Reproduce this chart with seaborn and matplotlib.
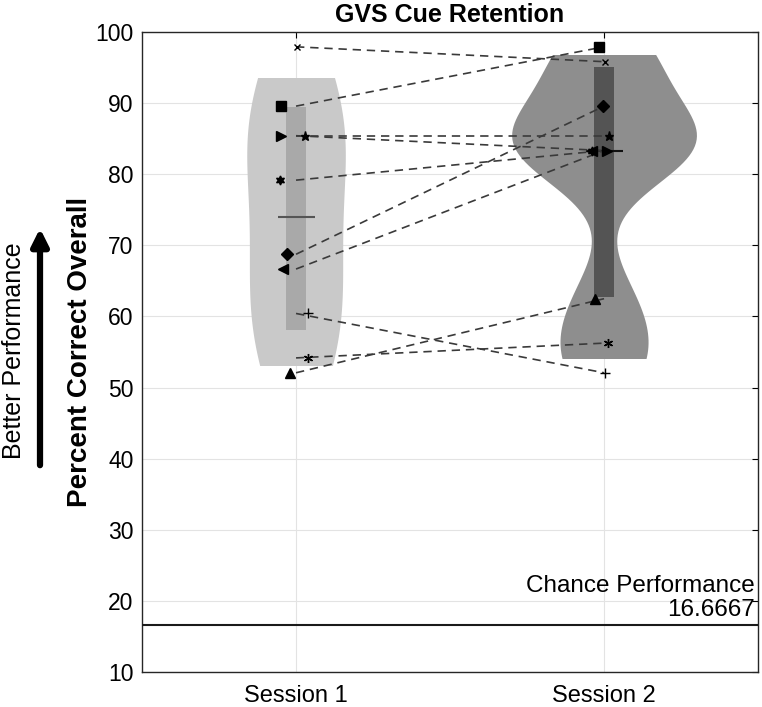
import numpy as np
import pandas as pd
import seaborn as sns
import matplotlib.pyplot as plt
from matplotlib.patches import Rectangle

# Percent correct per subject (10 subjects)
sessions = ['Session 1', 'Session 2']
session1 = [97.92, 89.58, 85.42, 85.42, 79.17, 68.75, 66.67, 60.42, 54.17, 52.08]
session2 = [95.83, 97.92, 83.33, 85.42, 83.33, 89.58, 83.33, 52.08, 56.25, 62.50]
# MATLAB-style marker per subject
subj_markers = ['x', 's', '>', '*', (6, 1, 0), 'D', '<', '+', (6, 2, 0), '^']

# shaded range of each violin and of its dark bar, as drawn
violin_lo = [53.2, 54.2]
violin_hi = [93.5, 96.8]
bar_lo = [58.1, 62.7]
bar_hi = [89.5, 95.1]
chance = 100 / 6

# small horizontal offsets so markers don't sit on top of each other
jit1 = [0.003, -0.048, -0.048, 0.029, -0.052, -0.029, -0.042, 0.039, 0.039, -0.019]
jit2 = [0.003, -0.016, 0.010, 0.016, -0.039, -0.003, -0.039, 0.003, 0.013, -0.029]

df = pd.DataFrame({
    'session': ['Session 1'] * len(session1) + ['Session 2'] * len(session2),
    'score': session1 + session2,
})

sns.set_style('white')
plt.rcParams['font.family'] = ['Liberation Sans', 'DejaVu Sans']
plt.rcParams['text.color'] = 'black'
plt.rcParams['axes.labelcolor'] = 'black'
plt.rcParams['xtick.color'] = 'black'
plt.rcParams['ytick.color'] = 'black'

fig = plt.figure(figsize=(7.62, 7.07), dpi=100)
ax = fig.add_axes([0.1864, 0.0495, 0.8084, 0.9052])

violin_colors = ['#c9c9c9', '#8e8e8e']
bar_colors = ['#a9a9a9', '#545454']
median_colors = ['#555555', '#111111']
widths = [0.32, 0.60]
bws = [1.0, 0.55]

for i, s in enumerate(sessions):
    n_before = len(ax.collections)
    sns.violinplot(data=df[df['session'] == s], x='session', y='score', order=sessions,
                   color=violin_colors[i], saturation=1, width=widths[i], bw_adjust=bws[i],
                   cut=0, inner=None, linewidth=0, density_norm='width', ax=ax)
    clip = Rectangle((i - 0.5, violin_lo[i]), 1.0, violin_hi[i] - violin_lo[i],
                     transform=ax.transData)
    for coll in ax.collections[n_before:]:
        coll.set_clip_path(clip)
    ax.bar(i, bar_hi[i] - bar_lo[i], bottom=bar_lo[i], width=0.065,
           color=bar_colors[i], linewidth=0, zorder=2)

s1 = np.array(session1)
s2 = np.array(session2)
ax.hlines(np.median(s1), -0.06, 0.06, color=median_colors[0], lw=1.5, zorder=3)
ax.hlines(np.median(s2), 0.94, 1.06, color=median_colors[1], lw=1.5, zorder=3)

# paired lines between sessions, then the subject markers
for k in range(len(session1)):
    ax.plot([0, 1], [session1[k], session2[k]], ls=(0, (5, 3.5)), color='#3a3a3a',
            lw=1.2, zorder=4)
for k in range(len(session1)):
    m = subj_markers[k]
    ms = 4.5 if m == 'x' else 6.5
    ax.plot([0 + jit1[k], 1 + jit2[k]], [session1[k], session2[k]], ls='none',
            marker=m, ms=ms, color='black', mec='black', mew=1.0, zorder=5)

# chance level
ax.axhline(chance, color='#1a1a1a', lw=1.5, zorder=3)
ax.text(0.995, chance + 0.5, 'Chance Performance\n%.4f' % chance,
        transform=ax.get_yaxis_transform(), ha='right', va='bottom',
        fontsize=17.5, linespacing=1.1)

ax.set_xlim(-0.5, 1.5)
ax.set_ylim(10, 100)
ax.set_yticks(range(10, 101, 10))
ax.set_xticks([0, 1])
ax.set_xticklabels(sessions)
ax.set_xlabel('')
ax.set_ylabel('Percent Correct Overall', fontsize=20, fontweight='bold', labelpad=2)
ax.set_title('GVS Cue Retention', fontsize=18, fontweight='bold', pad=7)
ax.grid(True, color='#e3e3e3', lw=0.8)
ax.set_axisbelow(True)
ax.tick_params(axis='y', labelsize=16.5, direction='in', right=True, length=4, pad=6)
ax.tick_params(axis='x', labelsize=17, direction='in', top=True, length=4, pad=9)
for sp in ax.spines.values():
    sp.set_visible(True)
    sp.set_color('#262626')
    sp.set_linewidth(1.0)

# side annotation
fig.text(0.018, 0.504, 'Better Performance', rotation=90, ha='center', va='center',
         fontsize=18)
ax.annotate('', xy=(0.0525, 0.677), xytext=(0.0525, 0.342), xycoords='figure fraction',
            textcoords='figure fraction',
            arrowprops=dict(arrowstyle='-|>,head_width=0.5,head_length=1.0',
                            color='black', lw=4.5, shrinkA=0, shrinkB=0))

fig.savefig('out.png', dpi=100)
